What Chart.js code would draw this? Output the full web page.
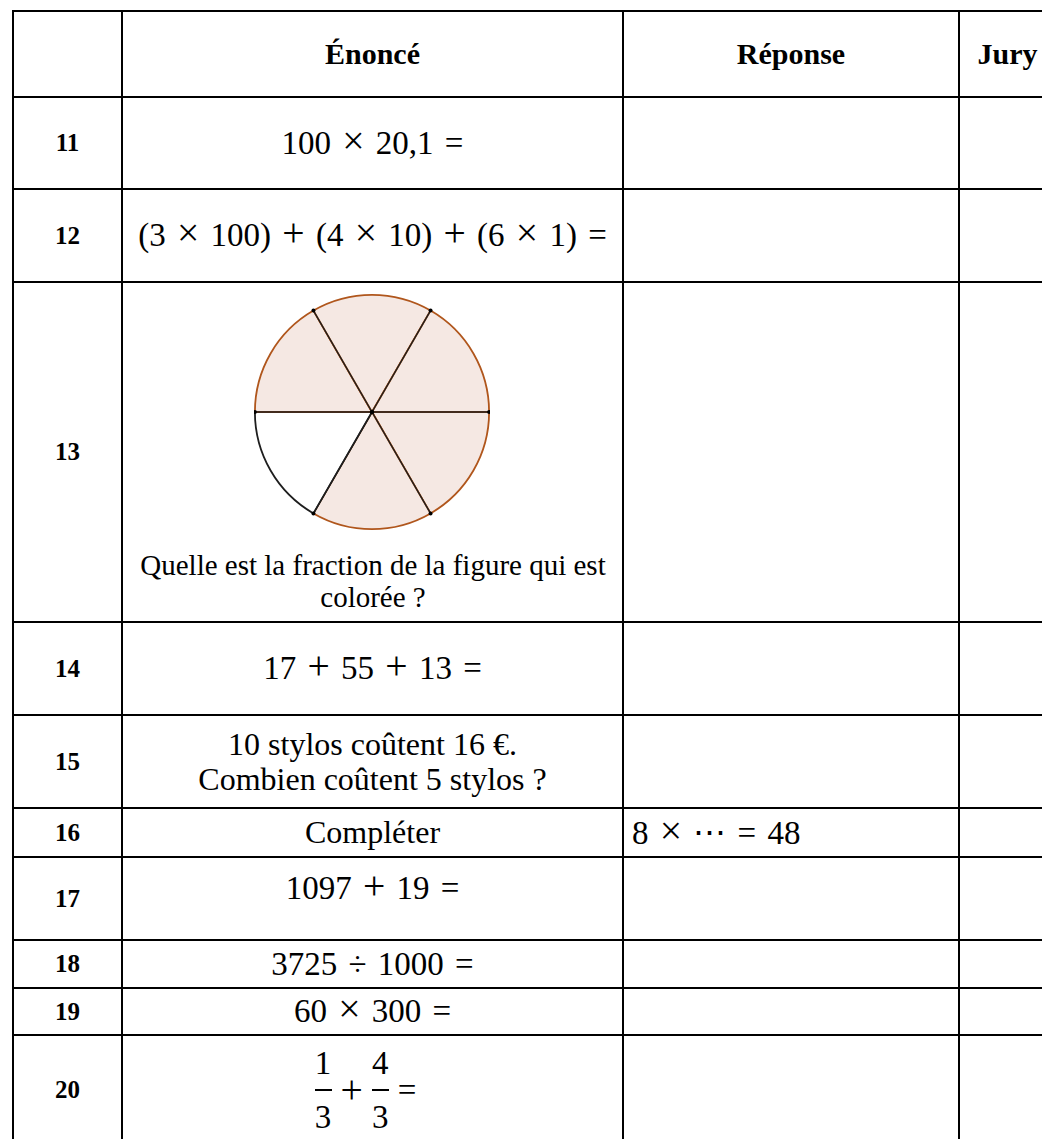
<!DOCTYPE html>
<html>
<head>
<meta charset="utf-8">
<script src="https://cdn.jsdelivr.net/npm/chart.js@4.4.1/dist/chart.umd.min.js"></script>
<style>
    html, body { margin: 0; padding: 0; background: #fff; overflow: hidden; }
    #sheet { position: relative; width: 1042px; height: 1139px; overflow: hidden;
             font-family: "Liberation Serif", "Times New Roman", serif; color: #000; }
    .hl { position: absolute; height: 2px; background: #000; }
    .vl { position: absolute; width: 2px; background: #000; }
    .cell { position: absolute; display: flex; align-items: center; justify-content: center; text-align: center; }
    .head { font-weight: bold; font-size: 30px; }
    .num { font-weight: bold; font-size: 25px; }
    .math { font-size: 33px; word-spacing: 3px; white-space: nowrap; }
    .op { font-size: 1.2em; line-height: 0; }
    .txt { font-size: 32px; line-height: 35px; }
    .fr { display: inline-flex; align-items: center; margin-left: -14px; }
    .fr .op { margin: 0 9px; }
    .frac { display: inline-flex; flex-direction: column; align-items: center; }
    .frac span { line-height: 26px; }
    .frac i { display: block; width: 17px; height: 1.5px; background: #000; margin: 13px 0; }
    .gap { display: inline-block; width: 9px; }
    #pieBox { position: absolute; left: 254px; top: 294px; width: 236px; height: 236px; }
    #pieText { position: absolute; left: 124px; width: 498px; top: 549px; text-align: center; font-size: 29px; line-height: 32px; }
</style>
</head>
<body>
<div id="sheet">
    <div id="pieBox"><canvas id="pie_chart_" width="236" height="236"></canvas></div>
</div>
<script>
    // table content
    const headers = ['', 'Énoncé', 'Réponse', 'Jury'];
    const rowNumbers = ['11', '12', '13', '14', '15', '16', '17', '18', '19', '20'];
    const statements = [
        '100 × 20,1 =',
        '(3 × 100) + (4 × 10) + (6 × 1) =',
        '',
        '17 + 55 + 13 =',
        '10 stylos coûtent 16 €.<br>Combien coûtent 5 stylos ?',
        'Compléter',
        '1097 + 19 =',
        '3725 ÷ 1000 =',
        '60 × 300 =',
        'FRAC'
    ];
    const answers = ['', '', '', '', '', '8 × ⋯ = 48', '', '', '', ''];
    const pieQuestion = 'Quelle est la fraction de la figure qui est<br>colorée ?';

    // pie of question 13: six equal parts, five coloured
    const sliceLabels = ['1', '2', '3', '4', '5', '6'];
    const sliceValues = [1, 1, 1, 1, 1, 1];
    const sliceShaded = [true, true, false, true, true, true];

    // grid lines
    const xs = [13, 122, 623, 959, 1056];
    const ys = [11, 97, 189, 282, 622, 715, 808, 857, 940, 988, 1035, 1145];

    const sheet = document.getElementById('sheet');

    function add(cls, style, html) {
        const d = document.createElement('div');
        d.className = cls;
        Object.assign(d.style, style);
        if (html !== undefined) d.innerHTML = html;
        sheet.appendChild(d);
        return d;
    }

    function cellBox(c, r) {
        return {
            left: (xs[c] + 1) + 'px', top: (ys[r] + 1) + 'px',
            width: (xs[c + 1] - xs[c] - 2) + 'px', height: (ys[r + 1] - ys[r] - 2) + 'px'
        };
    }

    const bigOps = s => '<span>' + s.replace(/[×+]/g, m => '<span class="op">' + m + '</span>') + '</span>';

    headers.forEach((h, c) => add('cell head', cellBox(c, 0), h));

    rowNumbers.forEach((n, i) => {
        const r = i + 1;
        add('cell num', cellBox(0, r), n);
        let s = statements[i];
        const isText = (i === 4 || i === 5);
        if (s === 'FRAC') {
            s = '<span class="fr"><span class="frac"><span>1</span><i></i><span>3</span></span>' +
                '<span class="op">+</span>' +
                '<span class="frac"><span>4</span><i></i><span>3</span></span><span class="gap"></span>=</span>';
        } else if (s && !isText) {
            s = bigOps(s);
        }
        if (s) {
            const d = add(isText ? 'cell txt' : 'cell math', cellBox(1, r), s);
            if (i === 6) { d.style.alignItems = 'flex-start'; d.style.paddingTop = '12px'; d.style.boxSizing = 'border-box'; }
        }
        if (answers[i]) {
            const d = add('cell math', cellBox(2, r), bigOps(answers[i]));
            d.style.justifyContent = 'flex-start';
            d.style.paddingLeft = '8px';
            d.style.boxSizing = 'border-box';
        }
    });

    add('', {}, pieQuestion).id = 'pieText';

    xs.slice(0, 4).forEach(x => add('vl', { left: (x - 1) + 'px', top: (ys[0] - 1) + 'px', height: '1200px' }));
    ys.slice(0, 11).forEach(y => add('hl', { left: (xs[0] - 1) + 'px', top: (y - 1) + 'px', width: '1100px' }));

    const spokes = {
        id: 'spokes',
        afterDatasetsDraw(chart) {
            const ctx = chart.ctx;
            const meta = chart.getDatasetMeta(0);
            ctx.save();
            ctx.strokeStyle = '#1e1e1e';
            ctx.fillStyle = '#000';
            ctx.lineWidth = 1.4;
            meta.data.forEach((arc) => {
                const p = arc.getProps(['x', 'y', 'startAngle', 'outerRadius'], true);
                const ex = p.x + Math.cos(p.startAngle) * p.outerRadius;
                const ey = p.y + Math.sin(p.startAngle) * p.outerRadius;
                ctx.beginPath();
                ctx.moveTo(p.x, p.y);
                ctx.lineTo(ex, ey);
                ctx.stroke();
                ctx.beginPath();
                ctx.arc(ex, ey, 2, 0, Math.PI * 2);
                ctx.fill();
            });
            const c = meta.data[0];
            ctx.beginPath();
            ctx.arc(c.x, c.y, 2.2, 0, Math.PI * 2);
            ctx.fill();
            ctx.restore();
        }
    };

    new Chart(document.getElementById('pie_chart_'), {
        type: 'pie',
        data: {
            labels: sliceLabels,
            datasets: [{
                data: sliceValues,
                backgroundColor: sliceShaded.map(s => s ? '#f5e8e3' : '#ffffff'),
                borderColor: sliceShaded.map(s => s ? '#b0561c' : '#1e1e1e'),
                borderWidth: 1.8,
            }],
        },
        options: {
            responsive: false,
            animation: false,
            rotation: 90,
            events: [],
            layout: { padding: 0 },
            plugins: { legend: { display: false }, tooltip: { enabled: false } },
        },
        plugins: [spokes],
    });
</script>
</body>
</html>
